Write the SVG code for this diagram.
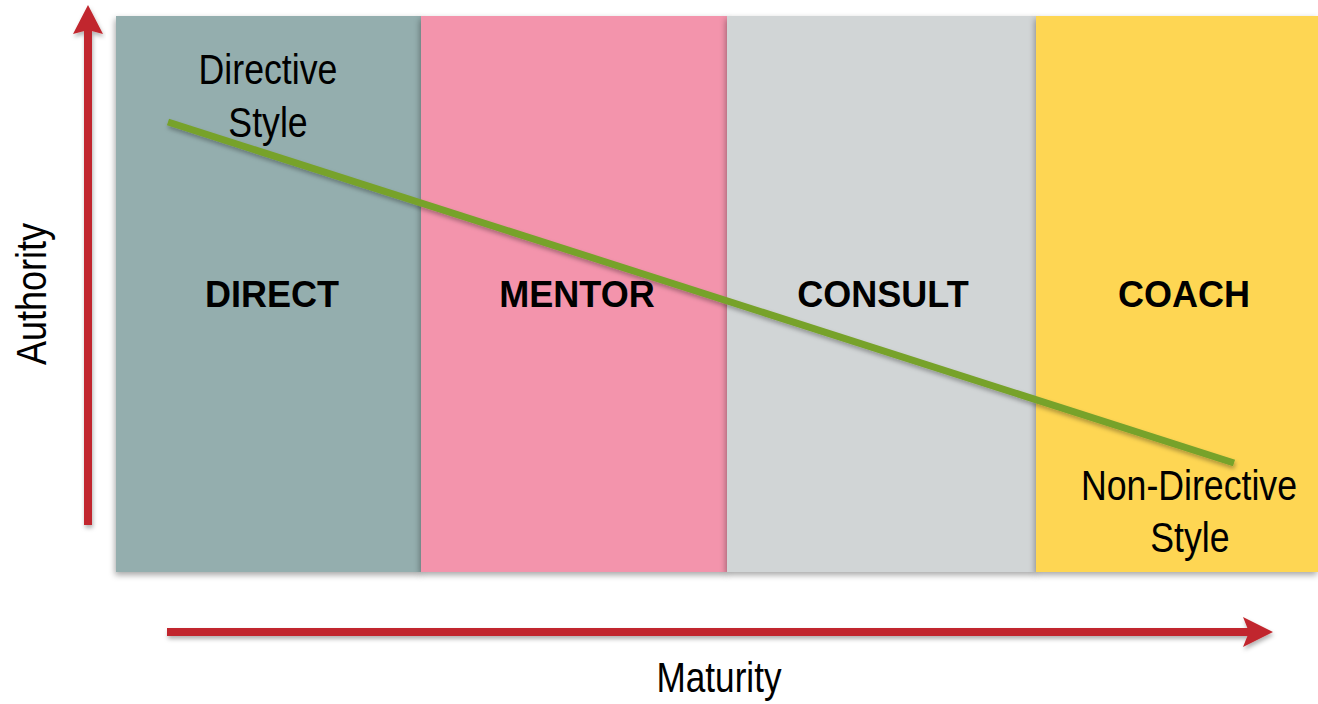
<svg xmlns="http://www.w3.org/2000/svg" width="1318" height="704" viewBox="0 0 1318 704">
  <style>
    .label { font-family: "Liberation Sans", Arial, sans-serif; font-weight: bold; font-size: 36px; fill: #000; text-anchor: middle; }
    .note { font-family: "Liberation Sans", Arial, sans-serif; font-size: 43px; fill: #000; text-anchor: middle; }
    .axis-label { font-family: "Liberation Sans", Arial, sans-serif; font-size: 42px; fill: #000; text-anchor: middle; }
    .arrow { fill: #c1272d; }
  </style>
  <defs>
    <filter id="panelShadow" x="-10%" y="-10%" width="120%" height="120%">
      <feDropShadow dx="-1" dy="3" stdDeviation="3" flood-color="#000" flood-opacity="0.35"/>
    </filter>
    <filter id="softShadow" x="-10%" y="-50%" width="120%" height="200%">
      <feDropShadow dx="1" dy="3" stdDeviation="2" flood-color="#000" flood-opacity="0.3"/>
    </filter>
  </defs>

  <rect width="1318" height="704" fill="#fff"/>

  <!-- style panels -->
  <g id="direct">
    <rect x="116" y="16" width="306" height="556" fill="#94aeae" filter="url(#panelShadow)"/>
    <text class="label" x="272" y="307">DIRECT</text>
  </g>
  <g id="mentor">
    <rect x="421" y="16" width="307" height="556" fill="#f394ac" filter="url(#panelShadow)"/>
    <text class="label" x="577" y="307">MENTOR</text>
  </g>
  <g id="consult">
    <rect x="727" y="16" width="310" height="556" fill="#d1d5d6" filter="url(#panelShadow)"/>
    <text class="label" x="883" y="307">CONSULT</text>
  </g>
  <g id="coach">
    <rect x="1036" y="16" width="282" height="556" fill="#fed652" filter="url(#panelShadow)"/>
    <text class="label" x="1184" y="307">COACH</text>
  </g>

  <!-- connectors: axes and style trend line -->
  <g id="connectors">
    <g id="authority-axis" filter="url(#softShadow)">
      <rect class="arrow" x="84" y="30" width="8" height="495"/>
      <polygon class="arrow" points="88,5 103,34 88,30 73,34"/>
    </g>
    <g id="maturity-axis" filter="url(#softShadow)">
      <rect class="arrow" x="167" y="628" width="1082" height="8"/>
      <polygon class="arrow" points="1273,632 1243,617 1249,632 1243,647"/>
    </g>
    <line id="trend" x1="168" y1="122" x2="1234" y2="463" stroke="#77a22c" stroke-width="7" filter="url(#softShadow)"/>
  </g>

  <!-- style notes (condensed horizontally) -->
  <g id="directive-note" transform="translate(268,0) scale(0.83,1)">
    <text class="note" x="0" y="84">Directive</text>
    <text class="note" x="0" y="137">Style</text>
  </g>
  <g id="non-directive-note" transform="translate(1189,0) scale(0.83,1)">
    <text class="note" x="0" y="500">Non-Directive</text>
    <text class="note" x="1" y="552">Style</text>
  </g>

  <!-- axis titles -->
  <text class="axis-label" x="719" y="692" textLength="125" lengthAdjust="spacingAndGlyphs">Maturity</text>
  <text class="axis-label" transform="translate(46,294) rotate(-90)" textLength="142" lengthAdjust="spacingAndGlyphs">Authority</text>
</svg>
